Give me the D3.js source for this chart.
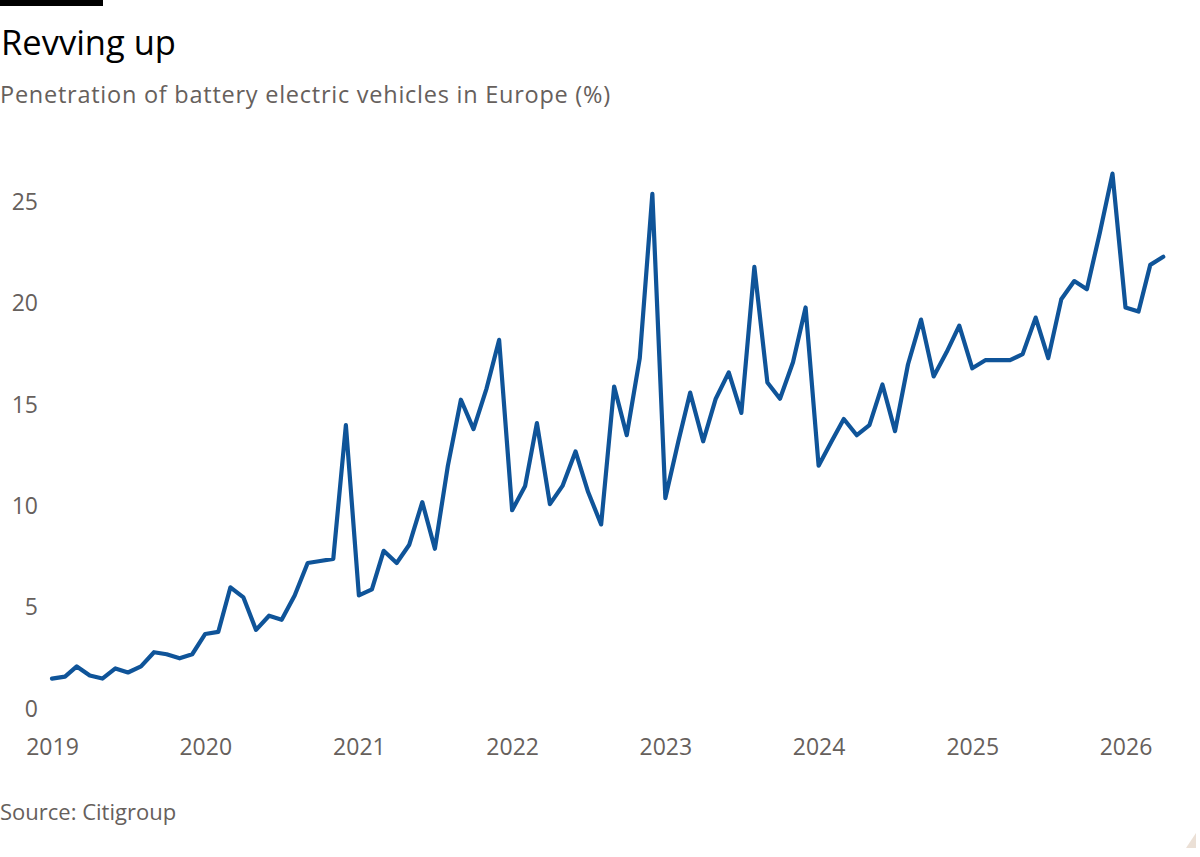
<!DOCTYPE html>
<html>
<head>
<meta charset="utf-8">
<script src="https://cdn.jsdelivr.net/npm/d3@7"></script>
<style>
  body { margin: 0; background: #fff; }
  svg { display: block; font-family: "Open Sans", "Noto Sans", sans-serif; }
</style>
</head>
<body>
<svg id="chart" width="1200" height="857"></svg>
<script>
// monthly BEV share in Europe, Jan 2019 onwards
const startMonth = new Date(2019, 0, 1);
const bevShare = [
    1.5, 1.6, 2.1, 1.65, 1.5, 2.0, 1.8, 2.1, 2.8, 2.7, 2.5, 2.7,
    3.7, 3.8, 6.0, 5.5, 3.9, 4.6, 4.4, 5.6, 7.2, 7.3, 7.4, 14.0,
    5.6, 5.9, 7.8, 7.2, 8.1, 10.2, 7.9, 12.0, 15.25, 13.8, 15.8, 18.2,
    9.8, 11.0, 14.1, 10.1, 11.0, 12.7, 10.7, 9.1, 15.9, 13.5, 17.3, 25.4,
    10.4, 13.2, 15.6, 13.2, 15.3, 16.6, 14.6, 21.8, 16.1, 15.3, 17.1, 19.8,
    12.0, 13.2, 14.3, 13.5, 14.0, 16.0, 13.7, 17.0, 19.2, 16.4, 17.6, 18.9,
    16.8, 17.2, 17.2, 17.2, 17.5, 19.3, 17.3, 20.2, 21.1, 20.7, 23.5, 26.4,
    19.8, 19.6, 21.9, 22.3
];
const yTicks = [0, 5, 10, 15, 20, 25];
const yearTicks = [2019, 2020, 2021, 2022, 2023, 2024, 2025, 2026];

const data = bevShare.map((v, i) => ({ date: d3.timeMonth.offset(startMonth, i), value: v }));

const svg = d3.select("#chart");
const grey = "#66605c";

const x = d3.scaleTime()
    .domain([new Date(2019, 0, 1), new Date(2026, 0, 1)])
    .range([52, 1125.5]);

const y = d3.scaleLinear()
    .domain([0, 25])
    .range([709, 202]);

// top black bar
svg.append("rect").attr("x", 0).attr("y", 0).attr("width", 103).attr("height", 6).attr("fill", "#000");

svg.append("text")
    .attr("x", 1).attr("y", 55)
    .attr("font-size", 34.5)
    .attr("fill", "#000")
    .text("Revving up");

svg.append("text")
    .attr("x", 0).attr("y", 103)
    .attr("font-size", 23.5)
    .attr("letter-spacing", 0.75)
    .attr("fill", grey)
    .text("Penetration of battery electric vehicles in Europe (%)");

// y axis
const yAxis = svg.append("g")
    .attr("transform", "translate(38,0)")
    .call(d3.axisLeft(y).tickValues(yTicks).tickSize(0).tickPadding(0));
yAxis.select(".domain").remove();
yAxis.selectAll("text")
    .attr("font-size", 23)
    .attr("font-family", "Open Sans, Noto Sans, sans-serif")
    .attr("fill", grey);

// x axis
const xAxis = svg.append("g")
    .attr("transform", "translate(0,709)")
    .call(d3.axisBottom(x)
        .tickValues(yearTicks.map(yr => new Date(yr, 0, 1)))
        .tickFormat(d3.timeFormat("%Y"))
        .tickSize(0).tickPadding(30));
xAxis.select(".domain").remove();
xAxis.selectAll("text")
    .attr("font-size", 23)
    .attr("font-family", "Open Sans, Noto Sans, sans-serif")
    .attr("fill", grey);

const line = d3.line()
    .x(d => x(d.date))
    .y(d => y(d.value));

svg.append("path")
    .datum(data)
    .attr("fill", "none")
    .attr("stroke", "#0f5499")
    .attr("stroke-width", 4.2)
    .attr("stroke-linejoin", "round")
    .attr("stroke-linecap", "round")
    .attr("d", line);

svg.append("text")
    .attr("x", 0).attr("y", 820)
    .attr("font-size", 22)
    .attr("fill", grey)
    .text("Source: Citigroup");

// small corner mark
svg.append("path")
    .attr("d", "M1186,848 L1196,833 L1196,848 Z")
    .attr("fill", "#ebe0d6");
</script>
</body>
</html>
